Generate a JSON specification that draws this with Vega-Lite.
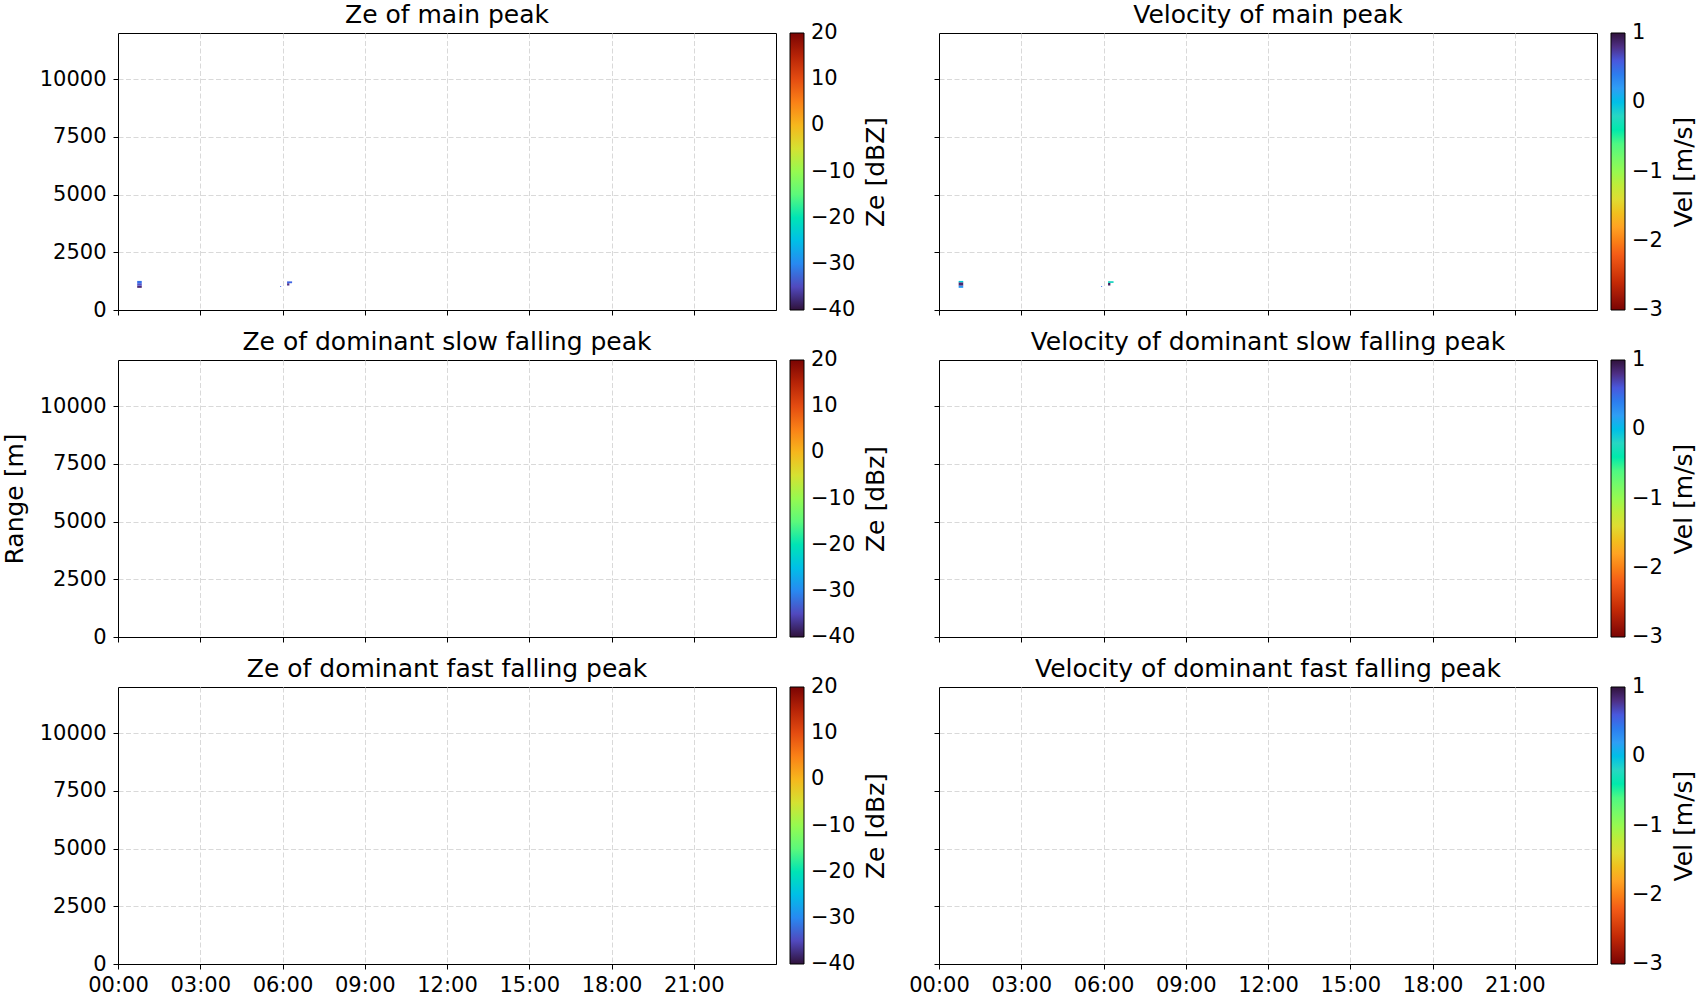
{
  "$schema": "https://vega.github.io/schema/vega-lite/v6.json",
  "background": "white",
  "padding": {"left": 1, "top": 2, "right": 0, "bottom": 0},
  "datasets": {
    "ze": [
      {"peak": "main", "start": "2024-01-01T00:42:00", "end": "2024-01-01T00:52:00", "bottom": 960, "top": 1060, "ze": -37.5},
      {"peak": "main", "start": "2024-01-01T00:42:00", "end": "2024-01-01T00:52:00", "bottom": 1060, "top": 1160, "ze": -34.5},
      {"peak": "main", "start": "2024-01-01T00:42:00", "end": "2024-01-01T00:52:00", "bottom": 1160, "top": 1260, "ze": -32},
      {"peak": "main", "start": "2024-01-01T05:55:00", "end": "2024-01-01T05:57:00", "bottom": 1000, "top": 1040, "ze": -33},
      {"peak": "main", "start": "2024-01-01T06:10:00", "end": "2024-01-01T06:15:00", "bottom": 1060, "top": 1160, "ze": -37},
      {"peak": "main", "start": "2024-01-01T06:10:00", "end": "2024-01-01T06:21:00", "bottom": 1160, "top": 1240, "ze": -33}
    ],
    "vel": [
      {"peak": "main", "start": "2024-01-01T00:43:00", "end": "2024-01-01T00:53:00", "bottom": 960, "top": 1060, "vel": 0.25},
      {"peak": "main", "start": "2024-01-01T00:43:00", "end": "2024-01-01T00:53:00", "bottom": 1060, "top": 1200, "vel": 0.85},
      {"peak": "main", "start": "2024-01-01T00:43:00", "end": "2024-01-01T00:53:00", "bottom": 1200, "top": 1260, "vel": -0.1},
      {"peak": "main", "start": "2024-01-01T05:55:00", "end": "2024-01-01T05:57:00", "bottom": 1000, "top": 1040, "vel": 0.5},
      {"peak": "main", "start": "2024-01-01T06:10:00", "end": "2024-01-01T06:15:00", "bottom": 1060, "top": 1170, "vel": 0.9},
      {"peak": "main", "start": "2024-01-01T06:10:00", "end": "2024-01-01T06:22:00", "bottom": 1170, "top": 1250, "vel": -0.2}
    ]
  },
  "bounds": "flush",
  "columns": 2,
  "spacing": {"row": 50, "column": 163},
  "resolve": {"scale": {"color": "independent"}, "legend": {"color": "independent"}},
  "concat": [
    {
      "title": "Ze of main peak",
      "width": 658, "height": 277,
      "data": {"name": "ze"},
      "transform": [{"filter": "datum.peak === 'main'"}],
      "mark": "rect",
      "encoding": {
        "x": {"field": "start", "type": "temporal",
              "scale": {"domain": [{"year": 2024, "month": 1, "date": 1, "hours": 0}, {"year": 2024, "month": 1, "date": 2, "hours": 0}]},
              "axis": {"title": null, "labels": false,
                       "values": [{"year": 2024, "month": 1, "date": 1, "hours": 0}, {"year": 2024, "month": 1, "date": 1, "hours": 3}, {"year": 2024, "month": 1, "date": 1, "hours": 6}, {"year": 2024, "month": 1, "date": 1, "hours": 9}, {"year": 2024, "month": 1, "date": 1, "hours": 12}, {"year": 2024, "month": 1, "date": 1, "hours": 15}, {"year": 2024, "month": 1, "date": 1, "hours": 18}, {"year": 2024, "month": 1, "date": 1, "hours": 21}]}},
        "x2": {"field": "end"},
        "y": {"field": "bottom", "type": "quantitative",
              "scale": {"domain": [0, 12000], "nice": false},
              "axis": {"title": null, "format": "d", "values": [0, 2500, 5000, 7500, 10000]}},
        "y2": {"field": "top"},
        "color": {"field": "ze", "type": "quantitative",
                  "scale": {"domain": [-40, 20], "range": ["#30123b", "#4958dd", "#2f9ef5", "#27d7c3", "#4ef983", "#96fa50", "#dfdc32", "#ffa323", "#f45c17", "#c42a06", "#7a0403"]},
                  "legend": {"title": "Ze [dBZ]", "values": [-40, -30, -20, -10, 0, 10, 20],
                             "encode": {"title": {"update": {"angle": {"value": 270}, "baseline": {"value": "top"}}}, "labels": {"update": {"baseline": {"value": "middle"}, "dx": {"value": 5}}}}}}
      }
    },
    {
      "title": "Velocity of main peak",
      "width": 658, "height": 277,
      "data": {"name": "vel"},
      "transform": [{"filter": "datum.peak === 'main'"}],
      "mark": "rect",
      "encoding": {
        "x": {"field": "start", "type": "temporal",
              "scale": {"domain": [{"year": 2024, "month": 1, "date": 1, "hours": 0}, {"year": 2024, "month": 1, "date": 2, "hours": 0}]},
              "axis": {"title": null, "labels": false,
                       "values": [{"year": 2024, "month": 1, "date": 1, "hours": 0}, {"year": 2024, "month": 1, "date": 1, "hours": 3}, {"year": 2024, "month": 1, "date": 1, "hours": 6}, {"year": 2024, "month": 1, "date": 1, "hours": 9}, {"year": 2024, "month": 1, "date": 1, "hours": 12}, {"year": 2024, "month": 1, "date": 1, "hours": 15}, {"year": 2024, "month": 1, "date": 1, "hours": 18}, {"year": 2024, "month": 1, "date": 1, "hours": 21}]}},
        "x2": {"field": "end"},
        "y": {"field": "bottom", "type": "quantitative",
              "scale": {"domain": [0, 12000], "nice": false},
              "axis": {"title": null, "labels": false, "values": [0, 2500, 5000, 7500, 10000]}},
        "y2": {"field": "top"},
        "color": {"field": "vel", "type": "quantitative",
                  "scale": {"domain": [-3, 1], "range": ["#7a0403", "#c42a06", "#f45c17", "#ffa323", "#dfdc32", "#96fa50", "#4ef983", "#27d7c3", "#2f9ef5", "#4958dd", "#30123b"]},
                  "legend": {"title": "Vel [m/s]", "values": [-3, -2, -1, 0, 1],
                             "encode": {"title": {"update": {"angle": {"value": 270}, "baseline": {"value": "top"}}}, "labels": {"update": {"baseline": {"value": "middle"}, "dx": {"value": 5}}}}}}
      }
    },
    {
      "title": "Ze of dominant slow falling peak",
      "width": 658, "height": 277,
      "data": {"name": "ze"},
      "transform": [{"filter": "datum.peak === 'slow'"}],
      "mark": "rect",
      "encoding": {
        "x": {"field": "start", "type": "temporal",
              "scale": {"domain": [{"year": 2024, "month": 1, "date": 1, "hours": 0}, {"year": 2024, "month": 1, "date": 2, "hours": 0}]},
              "axis": {"title": null, "labels": false,
                       "values": [{"year": 2024, "month": 1, "date": 1, "hours": 0}, {"year": 2024, "month": 1, "date": 1, "hours": 3}, {"year": 2024, "month": 1, "date": 1, "hours": 6}, {"year": 2024, "month": 1, "date": 1, "hours": 9}, {"year": 2024, "month": 1, "date": 1, "hours": 12}, {"year": 2024, "month": 1, "date": 1, "hours": 15}, {"year": 2024, "month": 1, "date": 1, "hours": 18}, {"year": 2024, "month": 1, "date": 1, "hours": 21}]}},
        "x2": {"field": "end"},
        "y": {"field": "bottom", "type": "quantitative",
              "scale": {"domain": [0, 12000], "nice": false},
              "axis": {"title": "Range [m]", "format": "d", "values": [0, 2500, 5000, 7500, 10000]}},
        "y2": {"field": "top"},
        "color": {"field": "ze", "type": "quantitative",
                  "scale": {"domain": [-40, 20], "range": ["#30123b", "#4958dd", "#2f9ef5", "#27d7c3", "#4ef983", "#96fa50", "#dfdc32", "#ffa323", "#f45c17", "#c42a06", "#7a0403"]},
                  "legend": {"title": "Ze [dBz]", "values": [-40, -30, -20, -10, 0, 10, 20],
                             "encode": {"title": {"update": {"angle": {"value": 270}, "baseline": {"value": "top"}}}, "labels": {"update": {"baseline": {"value": "middle"}, "dx": {"value": 5}}}}}}
      }
    },
    {
      "title": "Velocity of dominant slow falling peak",
      "width": 658, "height": 277,
      "data": {"name": "vel"},
      "transform": [{"filter": "datum.peak === 'slow'"}],
      "mark": "rect",
      "encoding": {
        "x": {"field": "start", "type": "temporal",
              "scale": {"domain": [{"year": 2024, "month": 1, "date": 1, "hours": 0}, {"year": 2024, "month": 1, "date": 2, "hours": 0}]},
              "axis": {"title": null, "labels": false,
                       "values": [{"year": 2024, "month": 1, "date": 1, "hours": 0}, {"year": 2024, "month": 1, "date": 1, "hours": 3}, {"year": 2024, "month": 1, "date": 1, "hours": 6}, {"year": 2024, "month": 1, "date": 1, "hours": 9}, {"year": 2024, "month": 1, "date": 1, "hours": 12}, {"year": 2024, "month": 1, "date": 1, "hours": 15}, {"year": 2024, "month": 1, "date": 1, "hours": 18}, {"year": 2024, "month": 1, "date": 1, "hours": 21}]}},
        "x2": {"field": "end"},
        "y": {"field": "bottom", "type": "quantitative",
              "scale": {"domain": [0, 12000], "nice": false},
              "axis": {"title": null, "labels": false, "values": [0, 2500, 5000, 7500, 10000]}},
        "y2": {"field": "top"},
        "color": {"field": "vel", "type": "quantitative",
                  "scale": {"domain": [-3, 1], "range": ["#7a0403", "#c42a06", "#f45c17", "#ffa323", "#dfdc32", "#96fa50", "#4ef983", "#27d7c3", "#2f9ef5", "#4958dd", "#30123b"]},
                  "legend": {"title": "Vel [m/s]", "values": [-3, -2, -1, 0, 1],
                             "encode": {"title": {"update": {"angle": {"value": 270}, "baseline": {"value": "top"}}}, "labels": {"update": {"baseline": {"value": "middle"}, "dx": {"value": 5}}}}}}
      }
    },
    {
      "title": "Ze of dominant fast falling peak",
      "width": 658, "height": 277,
      "data": {"name": "ze"},
      "transform": [{"filter": "datum.peak === 'fast'"}],
      "mark": "rect",
      "encoding": {
        "x": {"field": "start", "type": "temporal",
              "scale": {"domain": [{"year": 2024, "month": 1, "date": 1, "hours": 0}, {"year": 2024, "month": 1, "date": 2, "hours": 0}]},
              "axis": {"title": null, "format": "%H:%M",
                       "values": [{"year": 2024, "month": 1, "date": 1, "hours": 0}, {"year": 2024, "month": 1, "date": 1, "hours": 3}, {"year": 2024, "month": 1, "date": 1, "hours": 6}, {"year": 2024, "month": 1, "date": 1, "hours": 9}, {"year": 2024, "month": 1, "date": 1, "hours": 12}, {"year": 2024, "month": 1, "date": 1, "hours": 15}, {"year": 2024, "month": 1, "date": 1, "hours": 18}, {"year": 2024, "month": 1, "date": 1, "hours": 21}]}},
        "x2": {"field": "end"},
        "y": {"field": "bottom", "type": "quantitative",
              "scale": {"domain": [0, 12000], "nice": false},
              "axis": {"title": null, "format": "d", "values": [0, 2500, 5000, 7500, 10000]}},
        "y2": {"field": "top"},
        "color": {"field": "ze", "type": "quantitative",
                  "scale": {"domain": [-40, 20], "range": ["#30123b", "#4958dd", "#2f9ef5", "#27d7c3", "#4ef983", "#96fa50", "#dfdc32", "#ffa323", "#f45c17", "#c42a06", "#7a0403"]},
                  "legend": {"title": "Ze [dBz]", "values": [-40, -30, -20, -10, 0, 10, 20],
                             "encode": {"title": {"update": {"angle": {"value": 270}, "baseline": {"value": "top"}}}, "labels": {"update": {"baseline": {"value": "middle"}, "dx": {"value": 5}}}}}}
      }
    },
    {
      "title": "Velocity of dominant fast falling peak",
      "width": 658, "height": 277,
      "data": {"name": "vel"},
      "transform": [{"filter": "datum.peak === 'fast'"}],
      "mark": "rect",
      "encoding": {
        "x": {"field": "start", "type": "temporal",
              "scale": {"domain": [{"year": 2024, "month": 1, "date": 1, "hours": 0}, {"year": 2024, "month": 1, "date": 2, "hours": 0}]},
              "axis": {"title": null, "format": "%H:%M",
                       "values": [{"year": 2024, "month": 1, "date": 1, "hours": 0}, {"year": 2024, "month": 1, "date": 1, "hours": 3}, {"year": 2024, "month": 1, "date": 1, "hours": 6}, {"year": 2024, "month": 1, "date": 1, "hours": 9}, {"year": 2024, "month": 1, "date": 1, "hours": 12}, {"year": 2024, "month": 1, "date": 1, "hours": 15}, {"year": 2024, "month": 1, "date": 1, "hours": 18}, {"year": 2024, "month": 1, "date": 1, "hours": 21}]}},
        "x2": {"field": "end"},
        "y": {"field": "bottom", "type": "quantitative",
              "scale": {"domain": [0, 12000], "nice": false},
              "axis": {"title": null, "labels": false, "values": [0, 2500, 5000, 7500, 10000]}},
        "y2": {"field": "top"},
        "color": {"field": "vel", "type": "quantitative",
                  "scale": {"domain": [-3, 1], "range": ["#7a0403", "#c42a06", "#f45c17", "#ffa323", "#dfdc32", "#96fa50", "#4ef983", "#27d7c3", "#2f9ef5", "#4958dd", "#30123b"]},
                  "legend": {"title": "Vel [m/s]", "values": [-3, -2, -1, 0, 1],
                             "encode": {"title": {"update": {"angle": {"value": 270}, "baseline": {"value": "top"}}}, "labels": {"update": {"baseline": {"value": "middle"}, "dx": {"value": 5}}}}}}
      }
    }
  ],
  "config": {
    "font": "DejaVu Sans",
    "view": {"stroke": "black", "strokeWidth": 1},
    "title": {"fontSize": 25, "fontWeight": "normal", "color": "black", "anchor": "middle", "offset": 5},
    "axis": {
      "domain": true, "domainColor": "black", "domainWidth": 1,
      "ticks": true, "tickColor": "black", "tickSize": 5, "tickWidth": 1,
      "labelFontSize": 21, "labelColor": "black",
      "labelOverlap": false, "labelFlush": false,
      "titleFontSize": 25, "titleFontWeight": "normal", "titleColor": "black", "titlePadding": 12,
      "grid": true, "gridColor": "#d9d9d9", "gridDash": [5, 2.5], "gridWidth": 1
    },
    "axisX": {"labelPadding": 5},
    "axisY": {"labelPadding": 7},
    "legend": {
      "orient": "right", "offset": 14, "direction": "vertical",
      "gradientLength": 277, "gradientThickness": 14,
      "gradientStrokeColor": "black", "gradientStrokeWidth": 1,
      "labelFontSize": 21, "labelColor": "black", "labelOffset": 12,
      "labelOverlap": false,
      "titleOrient": "right", "titleAnchor": "middle",
      "titleFontSize": 25, "titleFontWeight": "normal", "titleColor": "black",
      "titlePadding": 9, "titleLimit": 0
    }
  }
}
